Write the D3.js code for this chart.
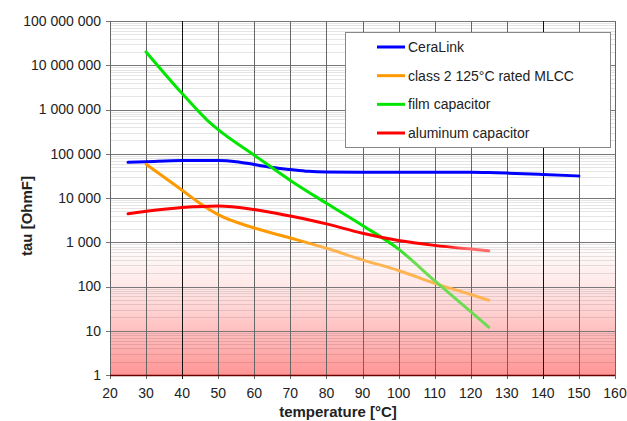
<!DOCTYPE html>
<html>
<head>
<meta charset="utf-8">
<script src="https://cdn.jsdelivr.net/npm/d3@7"></script>
<style>
  body { margin: 0; background: #fff; }
  text { font-family: "Liberation Sans", Arial, sans-serif; fill: #222; }
</style>
</head>
<body>
<svg id="chart" width="627" height="421"></svg>
<script>
// values
var ceraTemps = [25, 30, 40, 50, 55, 60, 65, 70, 75, 80, 90, 100, 110, 120, 125, 130, 140, 150];
var ceraVals  = [64000, 66000, 70000, 70000, 66000, 57000, 49000, 44000, 40000, 38500, 38000, 38000, 38000, 38000, 37500, 36500, 34000, 31500];

var mlccTemps = [30, 40, 45, 50, 60, 70, 80, 90, 100, 110, 120, 125];
var mlccVals  = [58000, 15000, 7500, 4200, 2100, 1250, 730, 400, 230, 118, 66, 49];

var filmTemps = [30, 40, 47, 50, 60, 70, 80, 90, 100, 110, 120, 125];
var filmVals  = [2e7, 2.3e6, 5.7e5, 3.5e5, 9.3e4, 2.5e4, 7.6e3, 2.4e3, 700, 135, 27, 12];

var aluTemps = [25, 30, 40, 50, 60, 70, 80, 90, 100, 110, 120, 125];
var aluVals  = [4400, 5000, 6100, 6600, 5500, 3900, 2600, 1600, 1100, 850, 700, 640];

var seriesNames = ['CeraLink', 'class 2 125°C rated MLCC', 'film capacitor', 'aluminum capacitor'];
var xTicks = d3.range(20, 161, 10);
var yTicks = [1, 10, 100, 1000, 1e4, 1e5, 1e6, 1e7, 1e8];

var series = [
  { name: seriesNames[0], t: ceraTemps, v: ceraVals, color: '#0000ff', light: '#0000ff', fade: 999 },
  { name: seriesNames[1], t: mlccTemps, v: mlccVals, color: '#ff9900', light: '#ffb452', fade: 75 },
  { name: seriesNames[2], t: filmTemps, v: filmVals, color: '#00e600', light: '#6cdc52', fade: 100 },
  { name: seriesNames[3], t: aluTemps, v: aluVals, color: '#ff0000', light: '#ff6b6b', fade: 115 }
];

var svg = d3.select('#chart');
var plotL = 110, plotR = 615, plotT = 21, plotB = 375;

var x = d3.scaleLinear().domain([20, 160]).range([plotL, plotR]);
var y = d3.scaleLog().domain([1, 1e8]).range([plotB, plotT]);

var defs = svg.append('defs');

// pink danger zone
var bg = defs.append('linearGradient').attr('id', 'bgGrad')
  .attr('gradientUnits', 'userSpaceOnUse')
  .attr('x1', 0).attr('x2', 0).attr('y1', y(1000)).attr('y2', plotB);
bg.append('stop').attr('offset', 0).attr('stop-color', '#ffffff');
bg.append('stop').attr('offset', 0.35).attr('stop-color', '#ffe6e6');
bg.append('stop').attr('offset', 1).attr('stop-color', '#ff9696');

svg.append('rect')
  .attr('x', plotL).attr('y', y(1000))
  .attr('width', plotR - plotL).attr('height', plotB - y(1000))
  .attr('fill', 'url(#bgGrad)');

// minor horizontal grid
var minor = [];
for (var d = 0; d < 8; d++) {
  for (var k = 2; k <= 9; k++) minor.push(k * Math.pow(10, d));
}
svg.append('g').selectAll('line').data(minor).join('line')
  .attr('x1', plotL).attr('x2', plotR)
  .attr('y1', function(v) { return Math.round(y(v)) + 0.5; })
  .attr('y2', function(v) { return Math.round(y(v)) + 0.5; })
  .attr('stroke', '#000').attr('stroke-opacity', 0.1);

// major horizontal grid
svg.append('g').selectAll('line').data(yTicks).join('line')
  .attr('x1', plotL - 4).attr('x2', plotR)
  .attr('y1', function(v) { return Math.round(y(v)) + 0.5; })
  .attr('y2', function(v) { return Math.round(y(v)) + 0.5; })
  .attr('stroke', '#777');

// vertical grid
svg.append('g').selectAll('line').data(xTicks).join('line')
  .attr('x1', function(v) { return Math.round(x(v)) + 0.5; })
  .attr('x2', function(v) { return Math.round(x(v)) + 0.5; })
  .attr('y1', plotT).attr('y2', plotB + 4)
  .attr('stroke', function(v) { return (v === 40 || v === 140) ? '#111' : '#666'; });

svg.append('line')
  .attr('x1', plotL).attr('x2', plotR)
  .attr('y1', plotB + 0.5).attr('y2', plotB + 0.5)
  .attr('stroke', '#600').attr('stroke-width', 1.5);

// tick labels
var fmt = function(v) { return d3.format(',')(v).replace(/,/g, ' '); };
svg.append('g').selectAll('text').data(yTicks).join('text')
  .attr('x', plotL - 9).attr('y', function(v) { return y(v); })
  .attr('dy', '0.35em').attr('text-anchor', 'end')
  .attr('font-size', '14px')
  .text(fmt);

svg.append('g').selectAll('text').data(xTicks).join('text')
  .attr('x', function(v) { return x(v); }).attr('y', plotB + 23)
  .attr('text-anchor', 'middle')
  .attr('font-size', '14px')
  .text(function(v) { return v; });

svg.append('text')
  .attr('x', 338).attr('y', 417)
  .attr('text-anchor', 'middle')
  .attr('font-size', '15px').attr('font-weight', 'bold')
  .text('temperature [°C]');

svg.append('text')
  .attr('transform', 'translate(32,216) rotate(-90)')
  .attr('text-anchor', 'middle')
  .attr('font-size', '15px').attr('font-weight', 'bold')
  .text('tau [OhmF]');

// curves
var line = d3.line()
  .x(function(p) { return x(p[0]); })
  .y(function(p) { return y(p[1]); })
  .curve(d3.curveMonotoneX);

series.forEach(function(s, i) {
  var gid = 'lg' + i;
  var lg = defs.append('linearGradient').attr('id', gid)
    .attr('gradientUnits', 'userSpaceOnUse')
    .attr('x1', x(20)).attr('x2', x(160)).attr('y1', 0).attr('y2', 0);
  var f = (s.fade - 20) / 140;
  lg.append('stop').attr('offset', Math.min(1, f - 0.02)).attr('stop-color', s.color);
  lg.append('stop').attr('offset', Math.min(1, f + 0.03)).attr('stop-color', s.light);

  svg.append('path')
    .datum(d3.zip(s.t, s.v))
    .attr('d', line)
    .attr('fill', 'none')
    .attr('stroke', 'url(#' + gid + ')')
    .attr('stroke-width', 3)
    .attr('stroke-linecap', 'round');
});

// legend
var lgd = svg.append('g');
lgd.append('rect')
  .attr('x', 345.5).attr('y', 32.5).attr('width', 265).attr('height', 115)
  .attr('fill', '#fff').attr('stroke', '#888');

var rowY = d3.scalePoint().domain(seriesNames).range([47, 133]);
series.forEach(function(s) {
  lgd.append('line')
    .attr('x1', 377).attr('x2', 405)
    .attr('y1', rowY(s.name)).attr('y2', rowY(s.name))
    .attr('stroke', s.color).attr('stroke-width', 3);
  lgd.append('text')
    .attr('x', 408).attr('y', rowY(s.name))
    .attr('dy', '0.35em')
    .attr('font-size', '14px')
    .text(s.name);
});
</script>
</body>
</html>
